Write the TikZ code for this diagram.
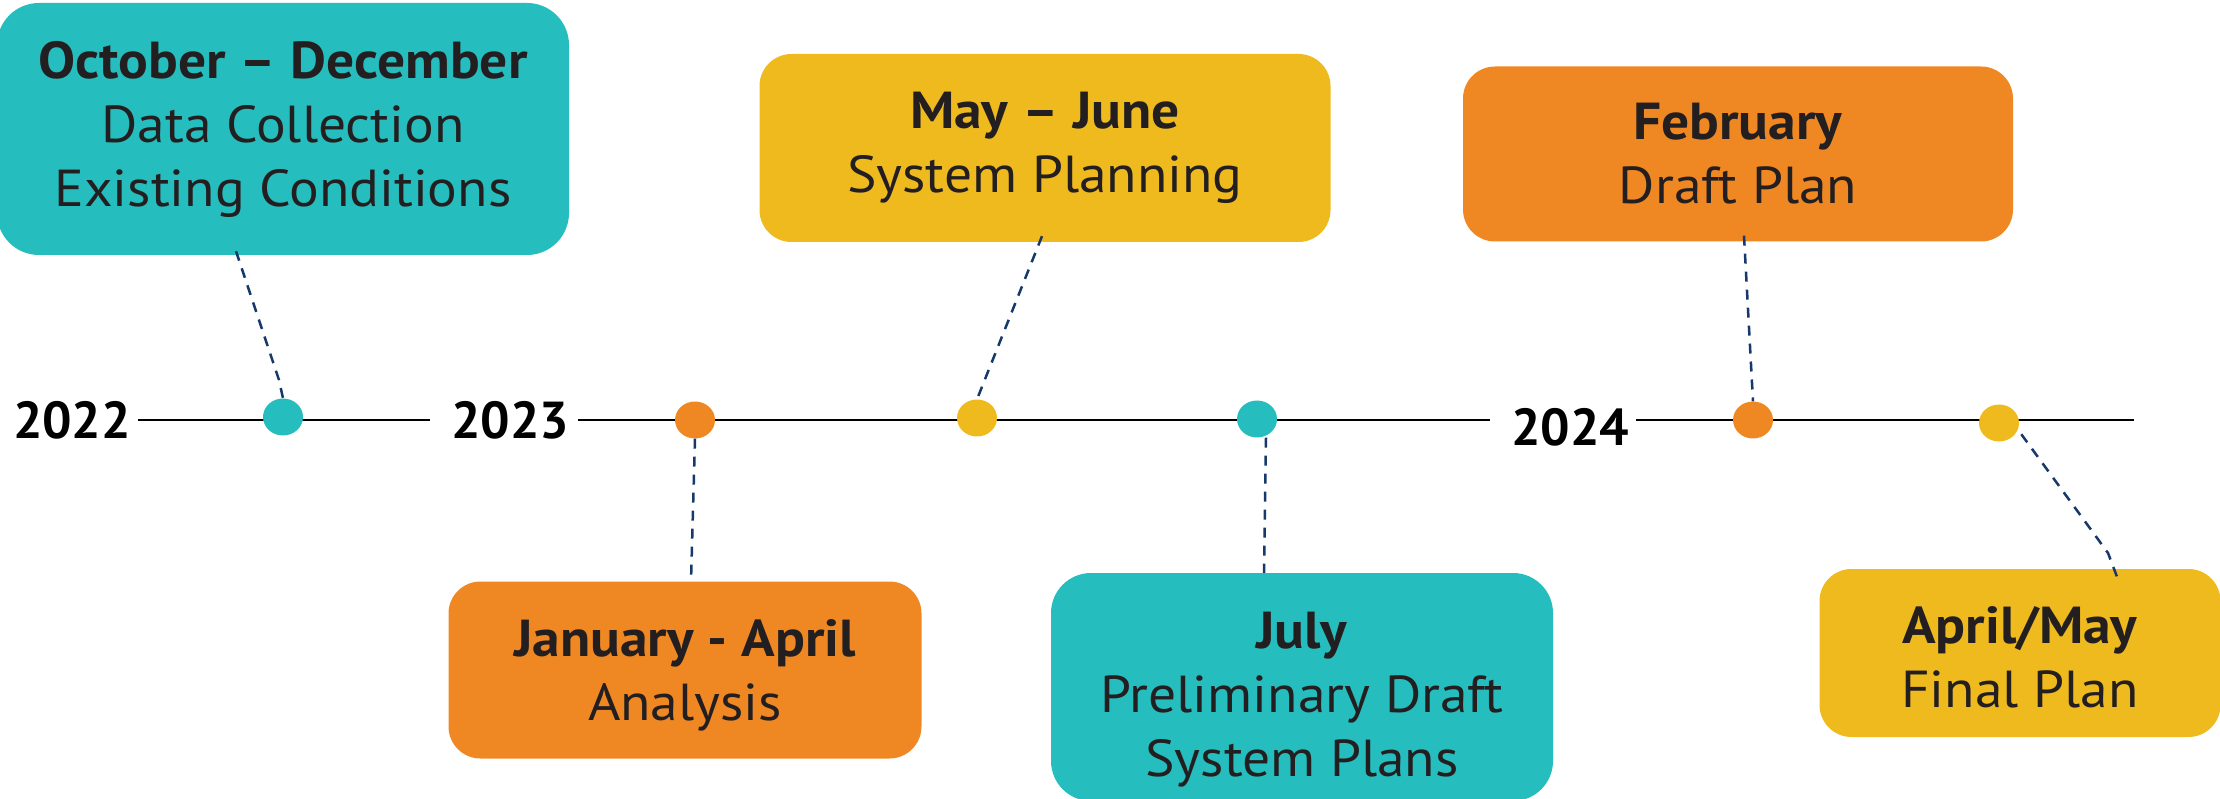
\documentclass[tikz,border=0pt]{standalone}
\usepackage{fontspec}
\setmainfont{PT Sans}[FakeStretch=1.067]
\newfontfamily\yearfont{PT Sans}
\usetikzlibrary{shapes.geometric}

\begin{document}
\begin{tikzpicture}[x=1pt,y=1pt,yscale=-1,xscale=1,
  card/.style={rounded corners=32pt, inner sep=0pt, align=center,
    text={rgb,255:red,35;green,31;blue,32}, font=\fontsize{52}{64}\selectfont},
  tealcard/.style={card, fill={rgb,255:red,38;green,189;blue,190}},
  goldcard/.style={card, fill={rgb,255:red,239;green,186;blue,30}},
  ambercard/.style={card, fill={rgb,255:red,239;green,136;blue,35}},
  dot/.style={ellipse, inner sep=0pt, minimum width=40pt, minimum height=37pt},
  year/.style={inner sep=0pt, font=\yearfont\fontsize{52}{60}\selectfont\bfseries},
  axis/.style={line width=2pt, draw=black},
  link/.style={line width=2.5pt, draw={rgb,255:red,22;green,56;blue,107},
    dash pattern=on 10pt off 8pt}]
\useasboundingbox (0,0) rectangle (2220,799);

% Text Node
\node[year] (y22) at (72,420) {2022};
% Text Node
\node[year] (y23) at (510,420) {2023};
% Text Node
\node[year] (y24) at (1570,427) {2024};
\coordinate (tlend) at (2134,420);

%Straight Lines
\draw[axis] ([xshift=7pt]y22.east |- 0,420) -- ([xshift=-21pt]y23.west |- 0,420);
\draw[axis] ([xshift=9pt]y23.east |- 0,420) -- ([xshift=-21pt]y24.west |- 0,420);
\draw[axis] ([xshift=7pt]y24.east |- 0,420) -- (tlend);

%Shape: Circle
\node[dot, fill={rgb,255:red,38;green,189;blue,190}] (d1) at (283,417) {};
\node[dot, fill={rgb,255:red,239;green,136;blue,35}] (d2) at (695,420) {};
\node[dot, fill={rgb,255:red,239;green,186;blue,30}] (d3) at (977,418) {};
\node[dot, fill={rgb,255:red,38;green,189;blue,190}] (d4) at (1257,419) {};
\node[dot, fill={rgb,255:red,239;green,136;blue,35}] (d5) at (1753,420) {};
\node[dot, fill={rgb,255:red,239;green,186;blue,30}] (d6) at (1999,423) {};

%Shape: Rounded Rect
\node[tealcard, rounded corners=42pt, minimum width=572pt, minimum height=252pt] (b1) at (283,129)
  {\textbf{October – December}\\Data Collection\\Existing Conditions};
\node[goldcard, minimum width=571pt, minimum height=188pt] (b2) at (1045,148)
  {\textbf{May – June}\\System Planning};
\node[ambercard, minimum width=550pt, minimum height=175pt] (b3) at (1738,154)
  {\textbf{February}\\Draft Plan};
\node[ambercard, minimum width=473pt, minimum height=177pt] (b4) at (685,670)
  {\rule{0pt}{48pt}\textbf{January - April}\\Analysis};
\node[tealcard, rounded corners=40pt, minimum width=502pt, minimum height=228pt] (b5) at (1302,687)
  {\rule{0pt}{62pt}\textbf{July}\\Preliminary Draft\\System Plans};
\node[goldcard, minimum width=401pt, minimum height=168pt] (b6) at (2020,653)
  {\rule{0pt}{46pt}\textbf{April/May}\\Final Plan};

%Straight Lines (dashed)
\coordinate (k1) at (279,380);
\coordinate (k6) at (2108,553);
\draw[link] ([xshift=-47pt,yshift=-4pt]b1.south) -- (k1) -- (d1.north);
\draw[link] (d2.south) -- ([xshift=6pt]b4.north);
\draw[link] ([xshift=-3pt,yshift=-6pt]b2.south) -- (d3.north);
\draw[link] ([xshift=9pt]d4.south) -- ([xshift=-38pt]b5.north);
\draw[link] ([xshift=6pt,yshift=-6pt]b3.south) -- (d5.north);
\draw[link] ([xshift=8pt,yshift=-2pt]d6.south east) -- (k6) -- ([xshift=97pt,yshift=8pt]b6.north);

\end{tikzpicture}
\end{document}
